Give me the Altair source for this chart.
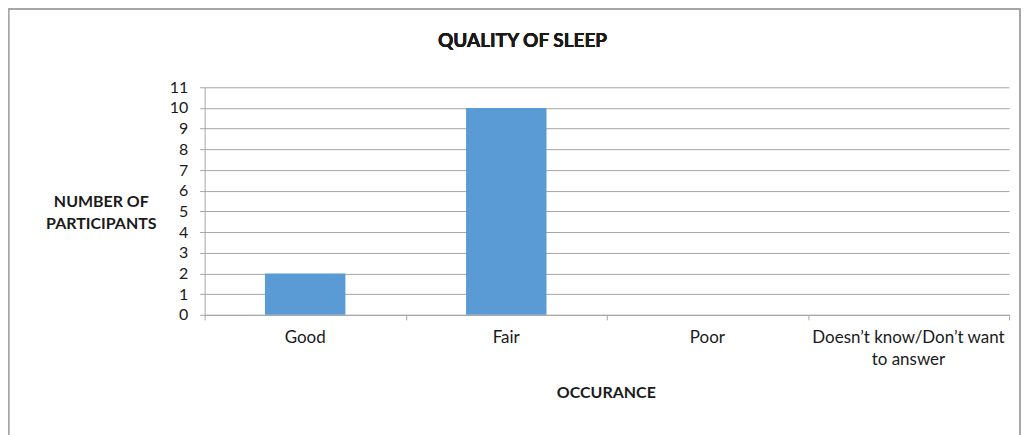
import altair as alt
import pandas as pd

categories = ["Good", "Fair", "Poor", "Doesn’t know/Don’t want to answer"]
participants = [2, 10, 0, 0]
y_ticks = list(range(0, 12))
boundary_ticks = [0, 1, 2, 3, 4]
chart_title = "QUALITY OF SLEEP"
y_title = ["NUMBER OF", "PARTICIPANTS"]
x_title = "OCCURANCE"

df = pd.DataFrame({"category": categories, "participants": participants})
tick_df = pd.DataFrame({"pos": boundary_ticks})

W, H = 806, 228
FONT = "Lato"
GRAY = "#a6a6a6"
TXT = "#1a1a1a"

label_expr = ("datum.label == 'Doesn’t know/Don’t want to answer' ? "
              "['Doesn’t know/Don’t want', 'to answer'] : datum.label")

bars = alt.Chart(df).mark_bar(color="#5b9bd5").encode(
    x=alt.X("category:N", sort=categories,
            scale=alt.Scale(paddingInner=0.6, paddingOuter=0.3),
            axis=alt.Axis(orient="bottom", title=x_title, labelExpr=label_expr,
                          ticks=False, domain=False, grid=False, labelAngle=0,
                          labelFont=FONT, labelFontSize=17, labelColor=TXT,
                          labelPadding=15, labelLineHeight=21.5, labelBaseline="top",
                          labelLimit=400,
                          titleFont=FONT, titleFontSize=16, titleFontWeight="bold",
                          titleColor=TXT, titleX=W / 2 - 1, titleY=77.5,
                          titleBaseline="middle", titleAlign="center")),
    y=alt.Y("participants:Q", scale=alt.Scale(domain=[0, 11], nice=False),
            axis=alt.Axis(values=y_ticks, title=y_title, titleAngle=0,
                          titleX=-104, titleY=114.7, titleAlign="center",
                          titleBaseline="middle", titleLineHeight=22,
                          titleFont=FONT, titleFontSize=16, titleFontWeight="bold",
                          titleColor=TXT,
                          grid=True, gridColor=GRAY, domainColor=GRAY, tickColor=GRAY,
                          tickSize=5, labelPadding=12, labelFont=FONT,
                          labelFontSize=16, labelColor=TXT)),
)

ticks = alt.Chart(tick_df).mark_point(opacity=0).encode(
    x=alt.X("pos:Q", scale=alt.Scale(domain=[0, 4], nice=False, zero=False),
            axis=alt.Axis(orient="bottom", values=boundary_ticks, labels=False,
                          title=None, grid=False, domainColor=GRAY,
                          tickColor=GRAY, tickSize=5)),
)

border = alt.Chart(df).mark_rect(fill=None, stroke=GRAY, strokeWidth=1.5).encode(
    x=alt.value(-196.5), x2=alt.value(W + 11), y=alt.value(-78.5), y2=alt.value(400)
)

title = alt.Chart(df).mark_text(font=FONT, fontSize=19, fontWeight="bold",
                                color=TXT, align="center", baseline="middle").encode(
    x=alt.value(318.5), y=alt.value(-46), text=alt.value(chart_title)
)

chart = alt.layer(bars, ticks, border, title).resolve_scale(x="independent").properties(
    width=W, height=H,
    autosize=alt.AutoSizeParams(type="none"),
    padding={"left": 197, "top": 79, "right": 14, "bottom": 130},
).configure_view(strokeWidth=0)

chart.save("out.html", embed_options={"renderer": "svg", "actions": False})
